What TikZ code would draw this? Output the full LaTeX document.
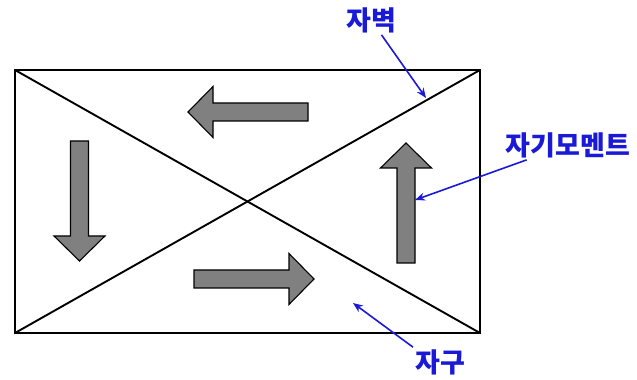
\documentclass[tikz,border=0pt]{standalone}
\usepackage{fontspec}
\newfontfamily\kfont{Noto Sans CJK KR}
\usepackage{tikz}
\usetikzlibrary{arrows.meta, positioning, calc}
\definecolor{labelblue}{RGB}{25,25,215}
\tikzset{
	magarrow/.style={draw=black, line width=1.1pt, fill=gray},
	bluelabel/.style={font=\kfont\bfseries\fontsize{27}{29}\selectfont, text=labelblue, inner sep=2pt},
	pointer/.style={draw=labelblue, line width=1.6pt, -{Stealth[length=10pt,width=8pt]}}
}
% block arrow: tail at origin, pointing along +x
\newcommand{\blockarrow}[2]{
  \draw[magarrow, shift={#1}, rotate=#2]
    (0,-9) -- (95,-9) -- (95,-25.5) -- (120,0) -- (95,25.5) -- (95,9) -- (0,9) -- cycle;
}

\begin{document}
\begin{tikzpicture}[x=1pt, y=1pt]
      \useasboundingbox (0,0) rectangle (637,380);
      % sample with domain walls
      \draw[line width=2.2pt] (15,47) rectangle (480,310);
      \draw[line width=1.9pt] (15,310) -- (480,47);
      \draw[line width=1.9pt] (15,47) -- (480,310);
      % magnetic moments
      \blockarrow{(308,268)}{180}
      \blockarrow{(79.5,239)}{-90}
      \blockarrow{(194,101)}{0}
      \blockarrow{(406,117)}{90}
      % labels
      \node[bluelabel] (wall) at (371,360) {자벽};
      \node[bluelabel] (moment) at (568,235) {자기모멘트};
      \node[bluelabel] (domain) at (440,18) {자구};
      \coordinate (wallpt) at (426,282);
      \coordinate (momentpt) at (415,180);
      \coordinate (domainpt) at (353,77);
      \draw[pointer] (wall) -- (wallpt);
      \draw[pointer] (moment) -- (momentpt);
      \draw[pointer] (domain.north west) -- (domainpt);
    \end{tikzpicture}
\end{document}
